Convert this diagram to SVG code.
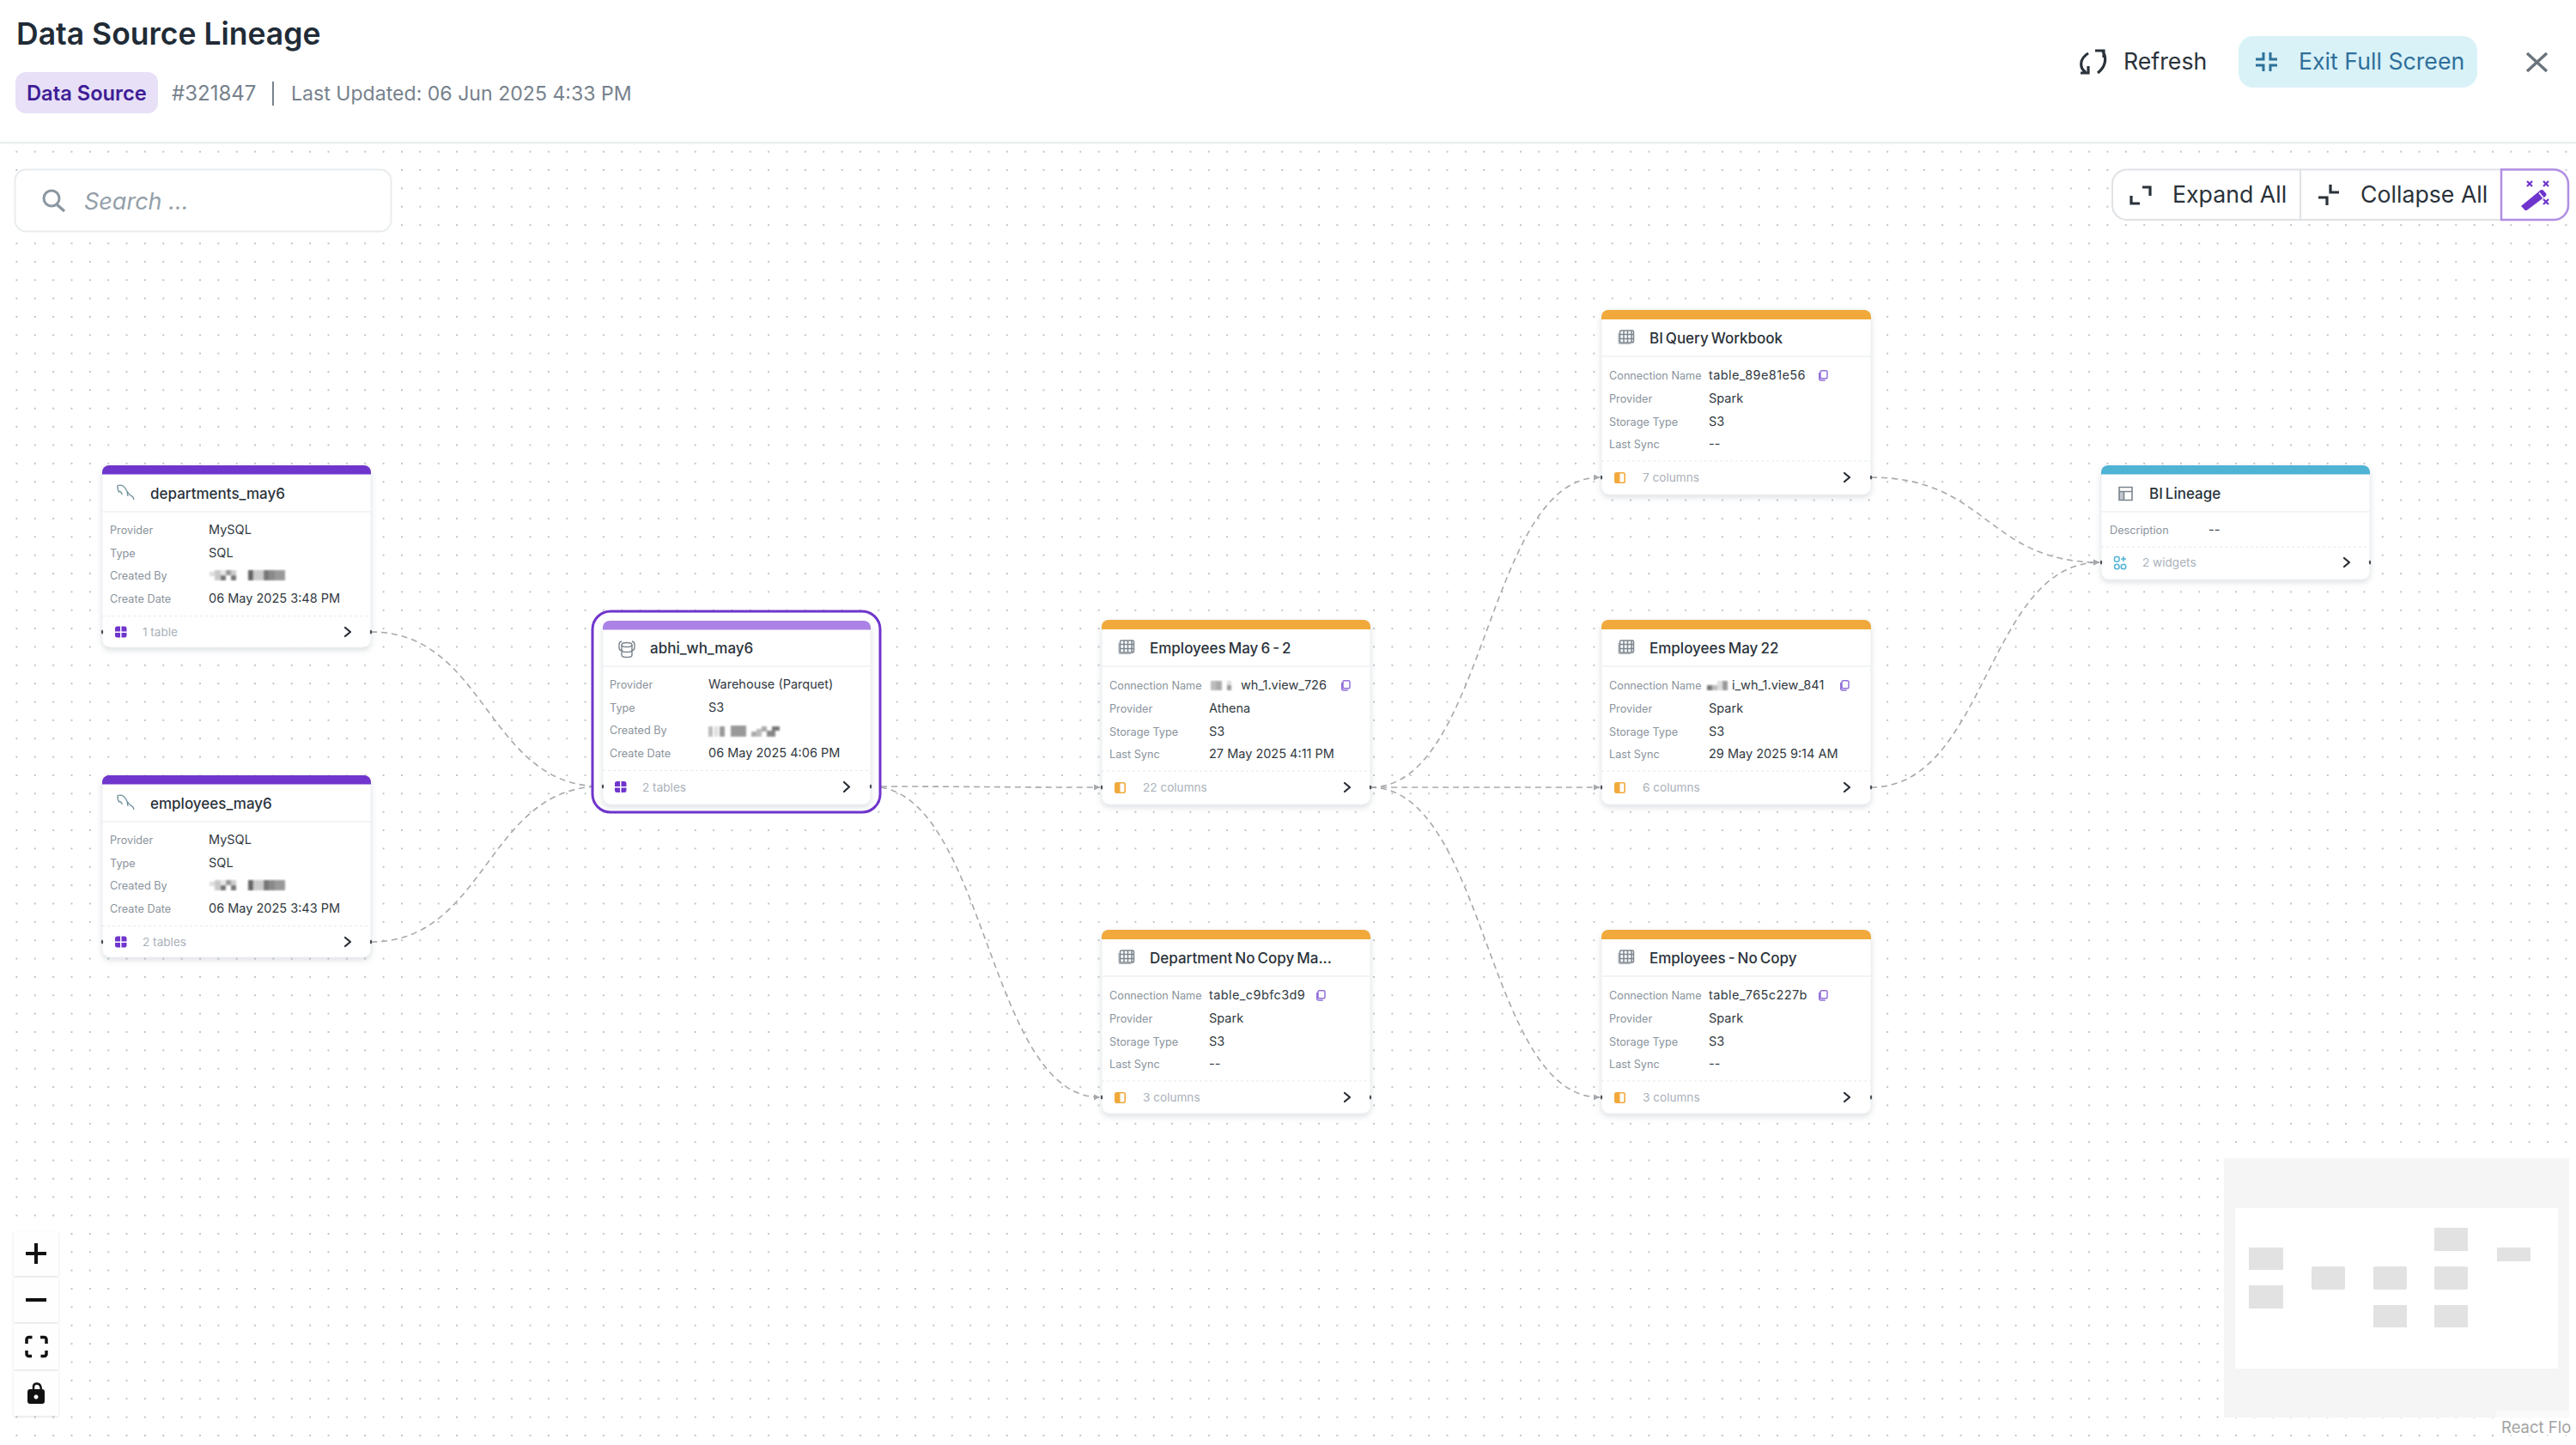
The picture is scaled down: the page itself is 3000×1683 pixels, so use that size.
<svg xmlns="http://www.w3.org/2000/svg" xmlns:xlink="http://www.w3.org/1999/xlink" width="3000" height="1683" viewBox="0 0 3000 1683">
<style>
text{font-family:"Inter","Noto Sans","Liberation Sans",sans-serif}
.name{font-size:17px;font-weight:500;fill:#2a323a;word-spacing:-1.500px}
.lab{font-size:12.700px;fill:#8a939c}
.val{font-size:14.500px;fill:#323a42}
.tb{letter-spacing:.4px}
.foot{font-size:13.600px;fill:#aab1b9}
.card{fill:#fff;stroke:#eceff1;stroke-width:1;filter:url(#sh)}
.hl{stroke:#eef0f2;stroke-width:1.5;fill:none}
.dl{stroke:#e6e9ec;stroke-width:1;stroke-dasharray:3 3;fill:none}
.chev{stroke:#262c33;stroke-width:2.2;fill:none;stroke-linecap:round;stroke-linejoin:round}
.hd{fill:#4a4f55}
.edge{fill:none;stroke:#a6a9ad;stroke-width:1.6;stroke-dasharray:7 5;marker-end:url(#arr)}
.ic{fill:none;stroke:#7c858e;stroke-width:1.5}
.copy{fill:none;stroke:#9170d8;stroke-width:1.5}
.ctl{fill:#fefefe;filter:url(#sh2)}
.mm{fill:#e2e2e2}
.btn{font-size:26.700px;fill:#2a323a;font-weight:400}
</style>
<defs>
<pattern id="dots" patternUnits="userSpaceOnUse" x="8.72" y="166.02" width="21.36" height="21.36"><circle cx="10.68" cy="10.68" r="0.95" fill="#a9adb1"/></pattern>
<filter id="sh" x="-10%" y="-10%" width="120%" height="125%"><feDropShadow dx="0" dy="3" stdDeviation="3" flood-color="#5a6672" flood-opacity=".2"/></filter>
<filter id="sh2" x="-20%" y="-20%" width="140%" height="140%"><feDropShadow dx="0" dy="1" stdDeviation="1.5" flood-color="#000" flood-opacity=".12"/></filter>
<filter id="bl" x="-5%" y="-5%" width="110%" height="110%"><feGaussianBlur stdDeviation="0.8"/></filter>
<marker id="arr" markerUnits="userSpaceOnUse" markerWidth="10" markerHeight="10" refX="9" refY="5" orient="auto"><path d="M2 1.5L9 5L2 8.5Z" fill="#a6a9ad"/></marker>
<g id="tbl"><path class="ic" d="M4 1h13a1.500 1.500 0 0 1 1.500 1.500v11a1.500 1.500 0 0 1-1.500 1.500h-13a1.500 1.500 0 0 1-1.500-1.500v-11A1.500 1.500 0 0 1 4 1zM2.500 5.500h16M2.500 10.500h16M7 1v14M11.500 1v14M16 1v14"/><path d="M0.500 4v10.500a2.500 2.500 0 0 0 2.500 2.500h12v-1.500h-12a1 1 0 0 1-1-1V4z" fill="#a9b0b7"/></g>
<g id="col"><rect x="0.800" y="0.800" width="11.400" height="11.400" rx="2" fill="#fff" stroke="#f1a93c" stroke-width="1.600"/><path d="M2 0.800h4.500v11.400H2a1.200 1.200 0 0 1-1.200-1.200V2A1.200 1.200 0 0 1 2 0.800z" fill="#f1a93c"/></g>
<g id="grid4"><path d="M2.500 0h3.500v6H0V2.500A2.500 2.500 0 0 1 2.500 0zM7.500 0H11a2.500 2.500 0 0 1 2.500 2.500V6H7.500zM0 7.500H6V13H2.500A2.500 2.500 0 0 1 0 10.500zM7.500 7.500h6v3A2.500 2.500 0 0 1 11 13H7.500z" fill="#6f35cc"/></g>
<g id="fish"><path d="M1 1.500c5-1.500 8 1 10 5c1.500 3.500 4 6 8 8.500M1 1.500c-.3 3 .5 6 2 8M3.500 8c1.500 1 2.500 3 3 4M12 8.500l1 5.500M19 15l1 3" fill="none" stroke="#6f8f99" stroke-width="1.300"/></g>
<path id="cp" class="copy" d="M3.500 0.800h5a1.500 1.500 0 0 1 1.500 1.500v6a1.500 1.500 0 0 1-1.500 1.500h-5A1.500 1.500 0 0 1 2 8.300v-6A1.500 1.500 0 0 1 3.500 0.800zM0.700 3v7a2 2 0 0 0 2 2h5"/>
</defs>
<rect width="3000" height="1683" fill="#fff"/>
<rect x="0" y="168" width="3000" height="1515" fill="url(#dots)"/>
<rect x="0" y="165" width="3000" height="2.500" fill="#ebeef0"/>

<g id="header">
<text x="19" y="52" style="font-size:35.500px;font-weight:600;fill:#212b36">Data Source Lineage</text>
<rect x="18" y="84" width="166" height="48" rx="12" fill="#e7e0f7"/>
<text x="31" y="117" style="font-size:23.700px;font-weight:600;fill:#3f1d96">Data Source</text>
<text x="200" y="117" style="font-size:24px;fill:#77828d">#321847</text>
<rect x="317" y="95" width="2" height="28" fill="#77828d"/>
<text x="339" y="117" style="font-size:23.100px;fill:#77828d">Last Updated: 06 Jun 2025 4:33 PM</text>
</g>
<g id="refresh">
<path d="M2432 62c-10 6-11 17-3 22M2423 85h9v-8M2440 59h10v8M2449 60c5 8 3 18-6 25" fill="none" stroke="#2a323a" stroke-width="3.200"/>
<text class="btn" x="2473" y="81">Refresh</text>
</g>
<g id="exit-full-screen">
<rect x="2607" y="42" width="278" height="60" rx="17" fill="#d9f2f7"/>
<path d="M2636 61v8h-9M2644 61v8h8M2636 83v-7h-9M2644 83v-7h8" fill="none" stroke="#2d7199" stroke-width="3"/>
<text class="btn" x="2677" y="81" style="fill:#2f6f9b">Exit Full Screen</text>
</g>
<path id="close" d="M2943 62L2966 83M2966 62L2943 83" stroke="#6b747c" stroke-width="3.500" fill="none"/>

<g id="search">
<rect x="17.500" y="197.500" width="438" height="72" rx="13" fill="#fff" stroke="#e9ecee" stroke-width="2"/>
<circle cx="60" cy="231" r="9" fill="none" stroke="#8b97a1" stroke-width="3"/>
<path d="M66 238L75 246" stroke="#8b97a1" stroke-width="3.500"/>
<text x="98" y="244" style="font-size:27px;font-style:italic;fill:#94a0aa">Search ...</text>
</g>

<g id="toolbar">
<rect x="2460" y="197.500" width="531" height="58.500" rx="17" fill="#fff" stroke="#dfe2e5" stroke-width="2"/>
<path d="M2679 197.500V256" stroke="#dfe2e5" stroke-width="2"/>
<path d="M2913 197.500H2974a17 17 0 0 1 17 17V239a17 17 0 0 1-17 17H2913Z" fill="#fff" stroke="#b08fe3" stroke-width="2.500"/>
<path d="M2482 228v9h10M2495 218h9v10" fill="none" stroke="#2a323a" stroke-width="3.200"/>
<text class="btn" x="2530" y="236">Expand All</text>
<path d="M2700 230h10v9M2714 215v9h10" fill="none" stroke="#2a323a" stroke-width="3.200"/>
<text class="btn" x="2749" y="236">Collapse All</text>
<path d="M2936 240l22-18a3 3 0 0 1 5 1l2 2a3 3 0 0 1-1 4l-20 15a3 3 0 0 1-5-1l-3-3z" fill="#6f35cc"/>
<path d="M2957 224.500l5 6" stroke="#fff" stroke-width="1.500"/>
<path d="M2943 211l6 6M2949 211l-6 6M2962 211l6 6M2968 211l-6 6M2962 232l6 6M2968 232l-6 6" stroke="#6f35cc" stroke-width="2.200"/>
</g>

<g id="connectors">
<path class="edge" d="M432 736C567 736 567 916 700 916"/>
<path class="edge" d="M432 1097C567 1097 567 916 700 916"/>
<path class="edge" d="M1014 916C1149 916 1149 917 1281 917"/>
<path class="edge" d="M1014 916C1149 916 1149 1278 1281 1278"/>
<path class="edge" d="M1596 917C1731 917 1731 556 1863 556"/>
<path class="edge" d="M1596 917C1731 917 1731 917 1863 917"/>
<path class="edge" d="M1596 917C1731 917 1731 1278 1863 1278"/>
<path class="edge" d="M2179 556C2314 556 2314 655 2445 655"/>
<path class="edge" d="M2179 917C2314 917 2314 655 2445 655"/>
</g>

<g id="node-departments" transform="translate(119,542)">
<rect class="card" x="0" y="0" width="313" height="212" rx="9"/>
<path d="M0 10.500V8a8 8 0 0 1 8-8H305a8 8 0 0 1 8 8V10.500Z" fill="#6f35cc"/>
<use href="#fish" x="17" y="22"/>
<text class="name" x="56" y="38.500">departments_may6</text>
<path class="hl" d="M0 54H313"/>
<text class="lab" x="9" y="80">Provider</text><text class="val" x="124" y="80">MySQL</text>
<text class="lab" x="9" y="107">Type</text><text class="val" x="124" y="107">SQL</text>
<text class="lab" x="9" y="133">Created By</text>
<g filter="url(#bl)"><rect x="125" y="124" width="6" height="5" fill="#ddd"/><rect x="131" y="122" width="7" height="12" fill="#c9c9c9"/><rect x="138" y="122" width="6" height="6" fill="#e8e8e8"/><rect x="138" y="128" width="6" height="6" fill="#777"/><rect x="144" y="122" width="6" height="6" fill="#999"/><rect x="150" y="122" width="6" height="6" fill="#ccc"/><rect x="150" y="128" width="6" height="6" fill="#777"/><rect x="170" y="122" width="6" height="12" fill="#666"/><rect x="176" y="122" width="12" height="12" fill="#ccc"/><rect x="188" y="122" width="6" height="12" fill="#777"/><rect x="194" y="122" width="7" height="12" fill="#8a8a8a"/><rect x="201" y="122" width="12" height="12" fill="#999"/></g>
<text class="lab" x="9" y="160">Create Date</text><text class="val" x="124" y="160">06 May 2025 3:48 PM</text>
<path class="dl" d="M0 175.500H313"/>
<use href="#grid4" x="15" y="187.500"/>
<text class="foot" x="47" y="198.500">1 table</text>
<path class="chev" d="M283 189l6 5l-6 5"/>
<ellipse class="hd" cx="0" cy="194" rx="1.200" ry="2.500"/><ellipse class="hd" cx="313" cy="194" rx="1.200" ry="2.500"/>
</g>

<g id="node-employees" transform="translate(119,903)">
<rect class="card" x="0" y="0" width="313" height="212" rx="9"/>
<path d="M0 10.500V8a8 8 0 0 1 8-8H305a8 8 0 0 1 8 8V10.500Z" fill="#6f35cc"/>
<use href="#fish" x="17" y="22"/>
<text class="name" x="56" y="38.500">employees_may6</text>
<path class="hl" d="M0 54H313"/>
<text class="lab" x="9" y="80">Provider</text><text class="val" x="124" y="80">MySQL</text>
<text class="lab" x="9" y="107">Type</text><text class="val" x="124" y="107">SQL</text>
<text class="lab" x="9" y="133">Created By</text>
<g filter="url(#bl)"><rect x="125" y="124" width="6" height="5" fill="#ddd"/><rect x="131" y="122" width="7" height="12" fill="#c9c9c9"/><rect x="138" y="122" width="6" height="6" fill="#e8e8e8"/><rect x="138" y="128" width="6" height="6" fill="#777"/><rect x="144" y="122" width="6" height="6" fill="#999"/><rect x="150" y="122" width="6" height="6" fill="#ccc"/><rect x="150" y="128" width="6" height="6" fill="#777"/><rect x="170" y="122" width="6" height="12" fill="#666"/><rect x="176" y="122" width="12" height="12" fill="#ccc"/><rect x="188" y="122" width="6" height="12" fill="#777"/><rect x="194" y="122" width="7" height="12" fill="#8a8a8a"/><rect x="201" y="122" width="12" height="12" fill="#999"/></g>
<text class="lab" x="9" y="160">Create Date</text><text class="val" x="124" y="160">06 May 2025 3:43 PM</text>
<path class="dl" d="M0 175.500H313"/>
<use href="#grid4" x="15" y="187.500"/>
<text class="foot" x="47" y="198.500">2 tables</text>
<path class="chev" d="M283 189l6 5l-6 5"/>
<ellipse class="hd" cx="0" cy="194" rx="1.200" ry="2.500"/><ellipse class="hd" cx="313" cy="194" rx="1.200" ry="2.500"/>
</g>

<g id="node-abhi" transform="translate(702,723)">
<rect x="-12" y="-11" width="335" height="234" rx="21" fill="#fff" stroke="#6f35cc" stroke-width="3"/>
<rect class="card" x="0" y="0" width="312" height="214" rx="9"/>
<path d="M0 10.500V8a8 8 0 0 1 8-8H304a8 8 0 0 1 8 8V10.500Z" fill="#ab82e6"/>
<g fill="none" stroke="#7c858e" stroke-width="1.400"><ellipse cx="28" cy="28" rx="6" ry="2.500"/><path d="M22 28v12a6 2.500 0 0 0 12 0V28M22 34a6 2.500 0 0 0 12 0M22 24a4 4 0 0 0-3 4v3a4 4 0 0 0 3 4M34 24a4 4 0 0 1 3 4v3a4 4 0 0 1-3 4"/></g>
<text class="name" x="55" y="37.500">abhi_wh_may6</text>
<path class="hl" d="M0 53H312"/>
<text class="lab" x="8" y="79">Provider</text><text class="val" x="123" y="79">Warehouse (Parquet)</text>
<text class="lab" x="8" y="106">Type</text><text class="val" x="123" y="106">S3</text>
<text class="lab" x="8" y="132">Created By</text>
<g filter="url(#bl)"><rect x="123" y="123" width="5" height="12" fill="#bbb"/><rect x="130" y="123" width="4" height="12" fill="#ddd"/><rect x="136" y="123" width="6" height="12" fill="#999"/><rect x="149" y="122" width="18" height="13" fill="#999"/><rect x="173" y="129" width="6" height="6" fill="#aaa"/><rect x="179" y="126" width="6" height="9" fill="#bbb"/><rect x="185" y="123" width="6" height="6" fill="#aaa"/><rect x="191" y="128" width="6" height="7" fill="#888"/><rect x="197" y="123" width="9" height="5" fill="#777"/><rect x="197" y="128" width="4" height="7" fill="#888"/></g>
<text class="lab" x="8" y="159">Create Date</text><text class="val" x="123" y="159">06 May 2025 4:06 PM</text>
<path class="dl" d="M0 174.500H312"/>
<use href="#grid4" x="14" y="187"/>
<text class="foot" x="46" y="198.500">2 tables</text>
<path class="chev" d="M281 188l6 5.500l-6 5.500"/>
<ellipse class="hd" cx="0" cy="193" rx="1.200" ry="2.500"/><ellipse class="hd" cx="312" cy="193" rx="1.200" ry="2.500"/>
</g>

<g id="node-employees-may6-2" transform="translate(1283,722)">
<rect class="card" x="0" y="0" width="313" height="215" rx="9"/>
<path d="M0 11V8a8 8 0 0 1 8-8H305a8 8 0 0 1 8 8V11Z" fill="#f1a93c"/>
<use href="#tbl" x="19" y="23"/>
<text class="name" x="56" y="38.500">Employees May 6 - 2</text>
<path class="hl" d="M0 54H313"/>
<text class="lab" x="9" y="81">Connection Name</text>
<g filter="url(#bl)"><rect x="127" y="71" width="6" height="11" fill="#bbb"/><rect x="133" y="71" width="7" height="11" fill="#aaa"/><rect x="146" y="71" width="5" height="5" fill="#ddd"/><rect x="146" y="76" width="5" height="6" fill="#999"/></g>
<text class="val" x="162" y="81">wh_1.view_726</text>
<use href="#cp" x="279" y="70"/>
<text class="lab" x="9" y="108">Provider</text><text class="val" x="125" y="108">Athena</text>
<text class="lab" x="9" y="135">Storage Type</text><text class="val" x="125" y="135">S3</text>
<text class="lab" x="9" y="161">Last Sync</text><text class="val" x="125" y="161">27 May 2025 4:11 PM</text>
<path class="dl" d="M0 176H313"/>
<use href="#col" x="15" y="189"/>
<text class="foot" x="48" y="199.500">22 columns</text>
<path class="chev" d="M283 190l6 5l-6 5"/>
<ellipse class="hd" cx="0" cy="195" rx="1.200" ry="2.500"/><ellipse class="hd" cx="313" cy="195" rx="1.200" ry="2.500"/>
</g>

<g id="node-bi-query" transform="translate(1865,361)">
<rect class="card" x="0" y="0" width="314" height="215" rx="9"/>
<path d="M0 11V8a8 8 0 0 1 8-8H306a8 8 0 0 1 8 8V11Z" fill="#f1a93c"/>
<use href="#tbl" x="19" y="23"/>
<text class="name" x="56" y="38.500">BI Query Workbook</text>
<path class="hl" d="M0 54H314"/>
<text class="lab" x="9" y="81">Connection Name</text>
<text class="val tb" x="125" y="81">table_89e81e56</text>
<use href="#cp" x="253" y="70"/>
<text class="lab" x="9" y="108">Provider</text><text class="val" x="125" y="108">Spark</text>
<text class="lab" x="9" y="135">Storage Type</text><text class="val" x="125" y="135">S3</text>
<text class="lab" x="9" y="161">Last Sync</text><text class="val" x="125" y="161">--</text>
<path class="dl" d="M0 176H314"/>
<use href="#col" x="15" y="189"/>
<text class="foot" x="48" y="199.500">7 columns</text>
<path class="chev" d="M283 190l6 5l-6 5"/>
<ellipse class="hd" cx="0" cy="195" rx="1.200" ry="2.500"/><ellipse class="hd" cx="314" cy="195" rx="1.200" ry="2.500"/>
</g>

<g id="node-employees-may22" transform="translate(1865,722)">
<rect class="card" x="0" y="0" width="314" height="215" rx="9"/>
<path d="M0 11V8a8 8 0 0 1 8-8H306a8 8 0 0 1 8 8V11Z" fill="#f1a93c"/>
<use href="#tbl" x="19" y="23"/>
<text class="name" x="56" y="38.500">Employees May 22</text>
<path class="hl" d="M0 54H314"/>
<text class="lab" x="9" y="81">Connection Name</text>
<g filter="url(#bl)"><rect x="123" y="76" width="6" height="6" fill="#777"/><rect x="129" y="76" width="6" height="6" fill="#bbb"/><rect x="135" y="71" width="6" height="11" fill="#ddd"/><rect x="141" y="71" width="6" height="11" fill="#999"/></g>
<text class="val" x="152" y="81">i_wh_1.view_841</text>
<use href="#cp" x="278" y="70"/>
<text class="lab" x="9" y="108">Provider</text><text class="val" x="125" y="108">Spark</text>
<text class="lab" x="9" y="135">Storage Type</text><text class="val" x="125" y="135">S3</text>
<text class="lab" x="9" y="161">Last Sync</text><text class="val" x="125" y="161">29 May 2025 9:14 AM</text>
<path class="dl" d="M0 176H314"/>
<use href="#col" x="15" y="189"/>
<text class="foot" x="48" y="199.500">6 columns</text>
<path class="chev" d="M283 190l6 5l-6 5"/>
<ellipse class="hd" cx="0" cy="195" rx="1.200" ry="2.500"/><ellipse class="hd" cx="314" cy="195" rx="1.200" ry="2.500"/>
</g>

<g id="node-department-no-copy" transform="translate(1283,1083)">
<rect class="card" x="0" y="0" width="313" height="214" rx="9"/>
<path d="M0 11V8a8 8 0 0 1 8-8H305a8 8 0 0 1 8 8V11Z" fill="#f1a93c"/>
<use href="#tbl" x="19" y="23"/>
<text class="name" x="56" y="38.500">Department No Copy Ma...</text>
<path class="hl" d="M0 54H313"/>
<text class="lab" x="9" y="81">Connection Name</text>
<text class="val tb" x="125" y="81">table_c9bfc3d9</text>
<use href="#cp" x="250" y="70"/>
<text class="lab" x="9" y="108">Provider</text><text class="val" x="125" y="108">Spark</text>
<text class="lab" x="9" y="135">Storage Type</text><text class="val" x="125" y="135">S3</text>
<text class="lab" x="9" y="161">Last Sync</text><text class="val" x="125" y="161">--</text>
<path class="dl" d="M0 176H313"/>
<use href="#col" x="15" y="189"/>
<text class="foot" x="48" y="199.500">3 columns</text>
<path class="chev" d="M283 190l6 5l-6 5"/>
<ellipse class="hd" cx="0" cy="195" rx="1.200" ry="2.500"/><ellipse class="hd" cx="313" cy="195" rx="1.200" ry="2.500"/>
</g>

<g id="node-employees-no-copy" transform="translate(1865,1083)">
<rect class="card" x="0" y="0" width="314" height="214" rx="9"/>
<path d="M0 11V8a8 8 0 0 1 8-8H306a8 8 0 0 1 8 8V11Z" fill="#f1a93c"/>
<use href="#tbl" x="19" y="23"/>
<text class="name" x="56" y="38.500">Employees - No Copy</text>
<path class="hl" d="M0 54H314"/>
<text class="lab" x="9" y="81">Connection Name</text>
<text class="val tb" x="125" y="81">table_765c227b</text>
<use href="#cp" x="253" y="70"/>
<text class="lab" x="9" y="108">Provider</text><text class="val" x="125" y="108">Spark</text>
<text class="lab" x="9" y="135">Storage Type</text><text class="val" x="125" y="135">S3</text>
<text class="lab" x="9" y="161">Last Sync</text><text class="val" x="125" y="161">--</text>
<path class="dl" d="M0 176H314"/>
<use href="#col" x="15" y="189"/>
<text class="foot" x="48" y="199.500">3 columns</text>
<path class="chev" d="M283 190l6 5l-6 5"/>
<ellipse class="hd" cx="0" cy="195" rx="1.200" ry="2.500"/><ellipse class="hd" cx="314" cy="195" rx="1.200" ry="2.500"/>
</g>

<g id="node-bi-lineage" transform="translate(2447,542)">
<rect class="card" x="0" y="0" width="313" height="133" rx="9"/>
<path d="M0 10.500V8a8 8 0 0 1 8-8H305a8 8 0 0 1 8 8V10.500Z" fill="#4fb3d4"/>
<rect x="21" y="30.500" width="5.500" height="10" fill="#c4c9ce"/><path d="M21 25.500h15v15h-15zM21 30.500h15M26.500 30.500v10" fill="none" stroke="#7c858e" stroke-width="1.600"/>
<text class="name" x="56" y="38.500">BI Lineage</text>
<path class="hl" d="M0 54H313"/>
<text class="lab" x="10" y="80">Description</text><text class="val" x="125" y="80">--</text>
<path class="dl" d="M0 95H313"/>
<g fill="none" stroke="#4fb3d4" stroke-width="1.500"><rect x="15.500" y="106.500" width="5.500" height="5.500" rx="1.500"/><circle cx="18.300" cy="118" r="2.800"/><circle cx="26" cy="118" r="2.800"/><path d="M26 106v6M23 109h6"/></g>
<text class="foot" x="48" y="117.500">2 widgets</text>
<path class="chev" d="M283 108l6 5l-6 5"/>
<ellipse class="hd" cx="0" cy="113" rx="1.200" ry="2.500"/><ellipse class="hd" cx="313" cy="113" rx="1.200" ry="2.500"/>
</g>

<g id="controls">
<rect class="ctl" x="16" y="1434" width="52" height="52"/>
<rect class="ctl" x="16" y="1488" width="52" height="52"/>
<rect class="ctl" x="16" y="1542" width="52" height="53"/>
<rect class="ctl" x="16" y="1597" width="52" height="52"/>
<path d="M30 1460H54M42 1448V1472M30 1514H54" stroke="#111" stroke-width="4" fill="none"/>
<path d="M31 1565v-5a2.500 2.500 0 0 1 2.500-2.500h4M47 1557.500h4.500a2.500 2.500 0 0 1 2.500 2.500v5M54 1573v4a2.500 2.500 0 0 1-2.500 2.500h-4M37 1579.500h-3.500a2.500 2.500 0 0 1-2.500-2.500v-4" stroke="#111" stroke-width="3.500" fill="none"/>
<path d="M35 1618a3 3 0 0 0-3 3v11a3 3 0 0 0 3 3h14a3 3 0 0 0 3-3v-11a3 3 0 0 0-3-3zM42 1624.500a2.500 2.500 0 1 0 .01 0z" fill="#111" fill-rule="evenodd"/>
<path d="M39 1618v-3c0-4 6-5 8-1l1 4" stroke="#111" stroke-width="2.500" fill="none"/>
</g>

<g id="minimap">
<rect x="2590" y="1349" width="402" height="302" fill="#f5f5f5"/>
<rect x="2603" y="1407" width="376" height="187" fill="#fff"/>
<rect class="mm" x="2619" y="1453" width="40" height="26"/>
<rect class="mm" x="2619" y="1497" width="40" height="27"/>
<rect class="mm" x="2692" y="1475" width="39" height="27" rx="2"/>
<rect class="mm" x="2764" y="1475" width="39" height="27" rx="2"/>
<rect class="mm" x="2764" y="1520" width="39" height="26"/>
<rect class="mm" x="2835" y="1430" width="39" height="27"/>
<rect class="mm" x="2835" y="1475" width="39" height="27" rx="2"/>
<rect class="mm" x="2835" y="1520" width="39" height="26"/>
<rect class="mm" x="2908" y="1453" width="39" height="16"/>
</g>
<g id="attribution">
<rect x="2907" y="1643" width="93" height="40" fill="#fff" fill-opacity=".5"/>
<text x="2913" y="1669" style="font-size:18.500px;fill:#a3a3a3">React Flo</text>
</g>
</svg>
